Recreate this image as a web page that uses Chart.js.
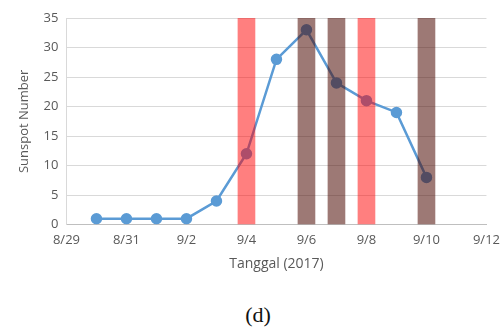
<!DOCTYPE html>
<html>
<head>
<meta charset="utf-8">
<script src="https://cdn.jsdelivr.net/npm/chart.js@4.4.0/dist/chart.umd.min.js"></script>
<style>
  html, body { margin: 0; padding: 0; background: #fff; overflow: hidden; }
  #wrap { position: relative; width: 503px; height: 327px; overflow: hidden; }
  #chart-box { position: absolute; left: 0; top: 0; width: 508px; height: 272px; }
  #caption {
    position: absolute; left: 0; top: 302px; width: 516px; text-align: center;
    font-family: "Liberation Serif", serif; font-size: 22px; color: #111;
  }
</style>
</head>
<body>
<div id="wrap">
  <div id="chart-box"><canvas id="sunspot-chart"></canvas></div>
  <div id="caption">(d)</div>
</div>
<script>
// Daily categories on the x axis (only every other one is labelled)
const dates = ['8/29', '8/30', '8/31', '9/1', '9/2', '9/3', '9/4', '9/5',
               '9/6', '9/7', '9/8', '9/9', '9/10', '9/11', '9/12'];

// Sunspot number per day
const sunspotNumber = [null, 1, 1, 1, 1, 4, 12, 28, 33, 24, 21, 19, 8, null, null];

// Days marked with vertical bands
const redBandDays = ['9/4', '9/8'];
const brownBandDays = ['9/6', '9/7', '9/10'];

// Y axis range
const Y_MAX = 35;
const Y_STEP = 5;

const FONT = '"Open Sans", sans-serif';
const TEXT_COLOR = '#595959';

function bandData(days) {
  return days.map(d => ({ x: d, y: Y_MAX }));
}

function initChart() {
  const ctx = document.getElementById('sunspot-chart');

  new Chart(ctx, {
    type: 'line',
    data: {
      labels: dates,
      datasets: [
        {
          type: 'bar',
          label: 'red',
          data: bandData(redBandDays),
          backgroundColor: 'rgba(255, 0, 0, 0.5)',
          borderWidth: 0,
          barThickness: 17,
          grouped: false,
          order: 0
        },
        {
          type: 'bar',
          label: 'brown',
          data: bandData(brownBandDays),
          backgroundColor: 'rgba(77, 11, 4, 0.55)',
          borderWidth: 0,
          barThickness: 17,
          grouped: false,
          order: 0
        },
        {
          label: 'Sunspot Number',
          data: sunspotNumber,
          borderColor: '#5B9BD5',
          backgroundColor: '#5B9BD5',
          borderWidth: 2.5,
          pointRadius: 4.5,
          pointHoverRadius: 4.5,
          tension: 0,
          spanGaps: false,
          order: 1
        }
      ]
    },
    options: {
      responsive: true,
      maintainAspectRatio: false,
      animation: false,
      layout: {
        padding: { left: 16, right: 0, top: 18, bottom: 0 }
      },
      plugins: {
        legend: { display: false },
        tooltip: { enabled: false }
      },
      scales: {
        x: {
          type: 'category',
          offset: false,
          grid: { display: false, drawTicks: false },
          border: { display: true, color: '#BFBFBF', width: 1 },
          ticks: {
            autoSkip: false,
            maxRotation: 0,
            padding: 8,
            color: TEXT_COLOR,
            font: { family: FONT, size: 13 },
            callback: function (value, index) {
              return index % 2 === 0 ? dates[index] : '';
            }
          },
          title: {
            display: true,
            text: 'Tanggal (2017)',
            color: TEXT_COLOR,
            font: { family: FONT, size: 14 },
            padding: { top: -1, bottom: 0 }
          }
        },
        y: {
          min: 0,
          max: Y_MAX,
          grid: { color: '#D9D9D9', drawTicks: false },
          border: { display: true, color: '#D9D9D9' },
          ticks: {
            stepSize: Y_STEP,
            padding: 8,
            color: TEXT_COLOR,
            font: { family: FONT, size: 13 }
          },
          title: {
            display: true,
            text: 'Sunspot Number',
            color: TEXT_COLOR,
            font: { family: FONT, size: 13 },
            padding: { top: 0, bottom: 4 }
          }
        }
      }
    }
  });
}

initChart();
</script>
</body>
</html>
